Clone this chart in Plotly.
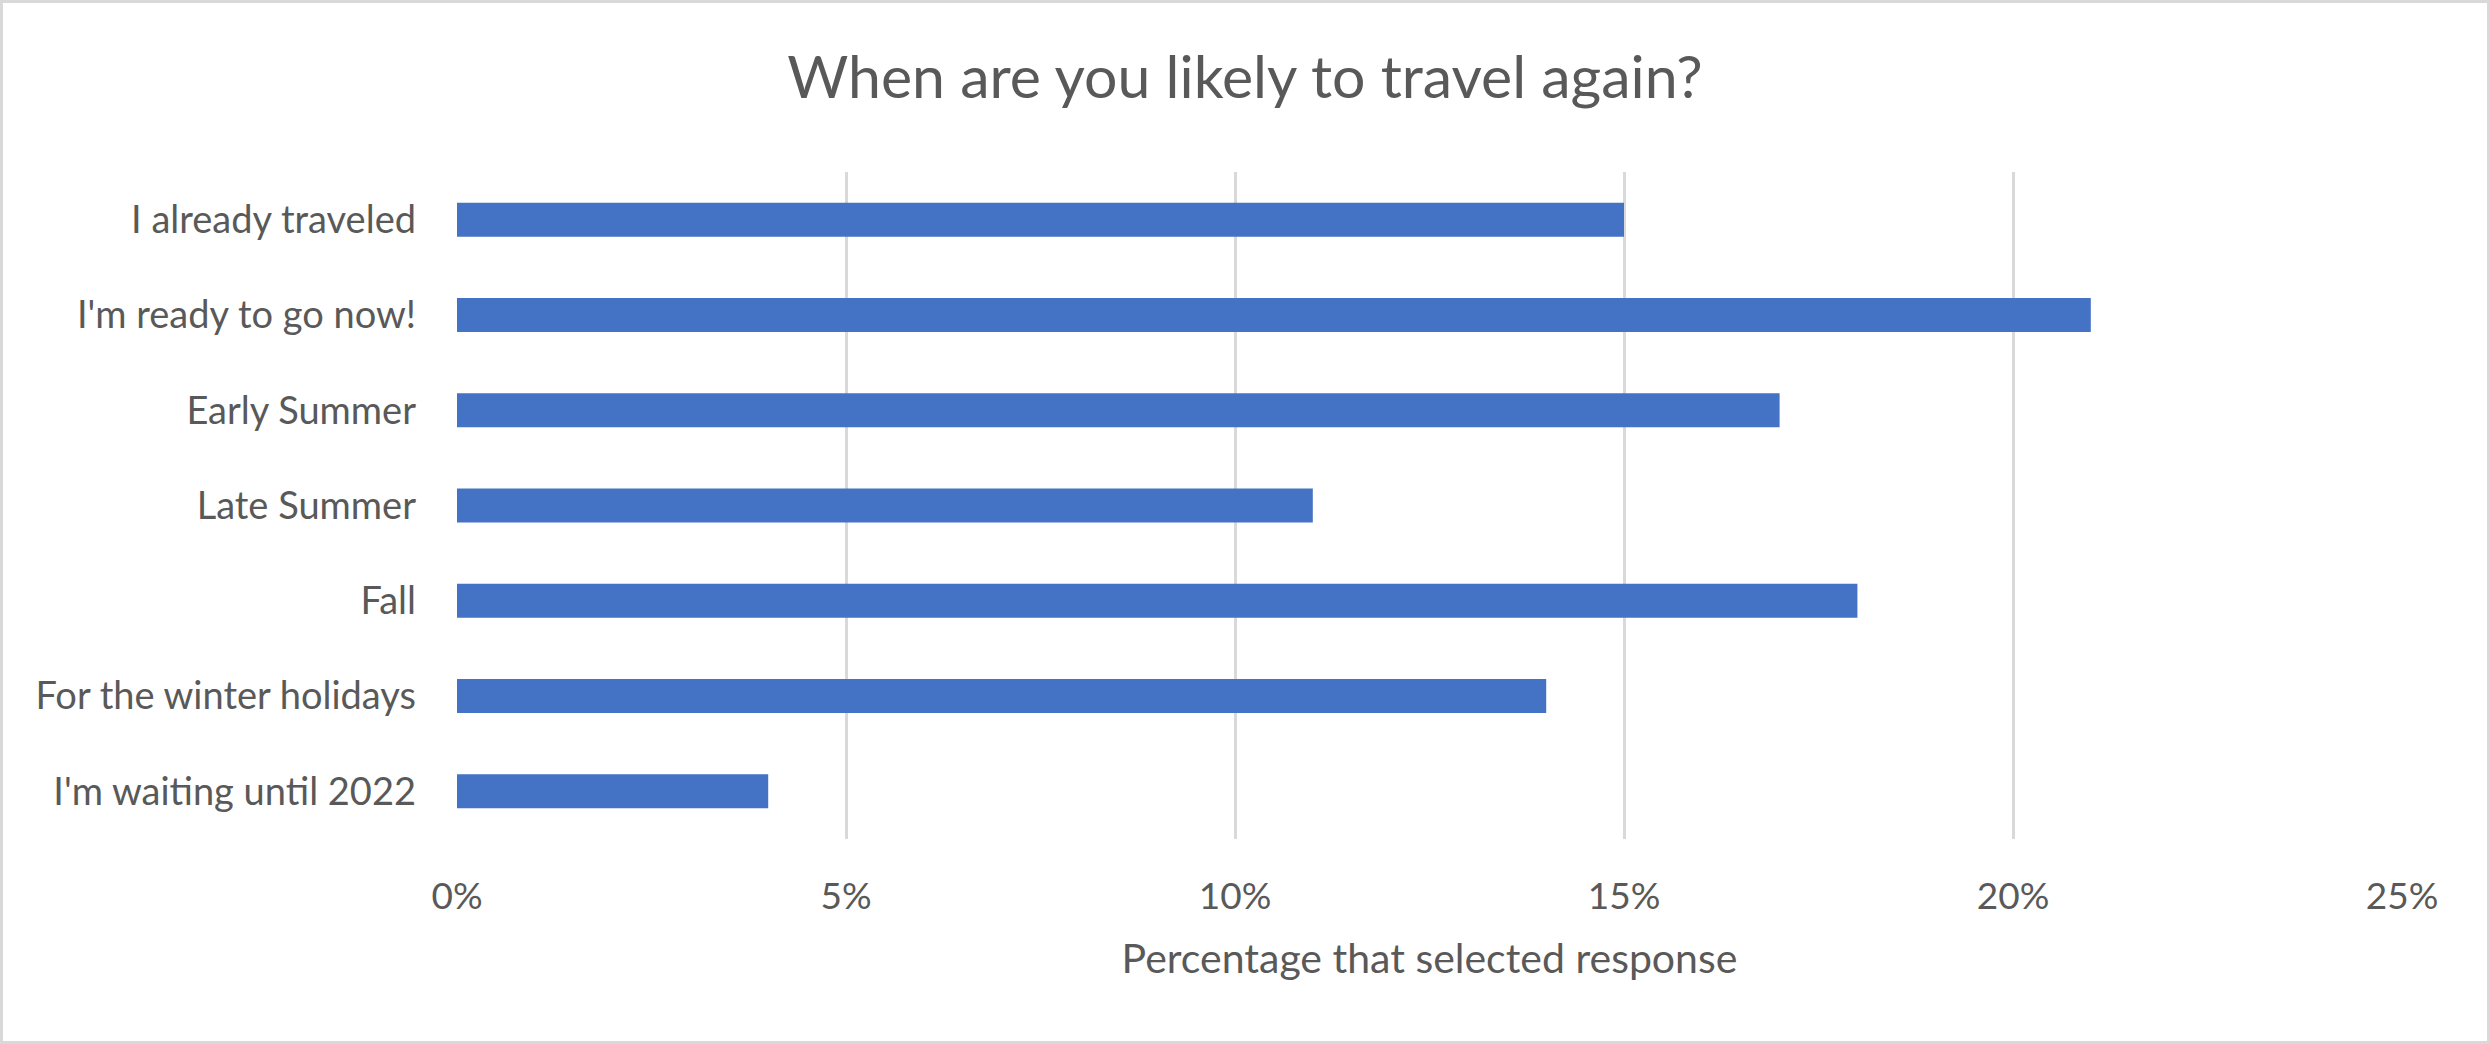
import plotly.graph_objects as go

# --- chart data ---
categories = [
    "I already traveled",
    "I'm ready to go now!",
    "Early Summer",
    "Late Summer",
    "Fall",
    "For the winter holidays",
    "I'm waiting until 2022",
]
percentages = [15, 21, 17, 11, 18, 14, 4]
x_tick_vals = [0, 5, 10, 15, 20, 25]
x_tick_text = ["0%", "5%", "10%", "15%", "20%", "25%"]

TITLE = "When are you likely to travel again?"
X_TITLE = "Percentage that selected response"
# ------------------

W, H = 2490, 1044
L, R, T, B = 457, 88, 172, 205
FONT = "Lato"
TEXT_COLOR = "#595959"
GRID_COLOR = "#d9d9d9"

fig = go.Figure()
fig.add_trace(go.Bar(
    x=percentages,
    y=categories,
    orientation="h",
    marker=dict(color="#4472c4", line=dict(width=0)),
))

# light grey frame round the whole chart
pw, ph = W - L - R, H - T - B
fig.add_shape(
    type="rect", xref="paper", yref="paper",
    x0=-(L - 1.5) / pw, x1=1 + (R - 1.5) / pw,
    y0=-(B - 1.5) / ph, y1=1 + (T - 1.5) / ph,
    line=dict(color=GRID_COLOR, width=3), fillcolor="rgba(0,0,0,0)", layer="below",
)

fig.update_layout(
    width=W, height=H,
    margin=dict(l=L, r=R, t=T, b=B, pad=0),
    paper_bgcolor="white", plot_bgcolor="white",
    font=dict(family=FONT, color=TEXT_COLOR),
    title=dict(text=TITLE, x=0.5, xanchor="center", y=1 - 77 / H, yanchor="middle",
               font=dict(size=59, color=TEXT_COLOR)),
    bargap=0.643,
    showlegend=False,
)
fig.update_xaxes(
    range=[0, 25], tickvals=x_tick_vals, ticktext=x_tick_text,
    showgrid=True, gridcolor=GRID_COLOR, gridwidth=3, zeroline=False,
    showline=False, ticks="", tickfont=dict(size=37, color=TEXT_COLOR),
    ticklabelstandoff=32,
    title=dict(text=X_TITLE, font=dict(size=41, color=TEXT_COLOR), standoff=28),
)
fig.update_yaxes(
    autorange="reversed", showgrid=False, zeroline=False,
    showline=False, ticks="", tickfont=dict(size=38, color=TEXT_COLOR),
    ticklabelstandoff=40,
)

fig.write_html("out.html", config={"displayModeBar": False},
               post_script="document.body.style.margin='0';")
